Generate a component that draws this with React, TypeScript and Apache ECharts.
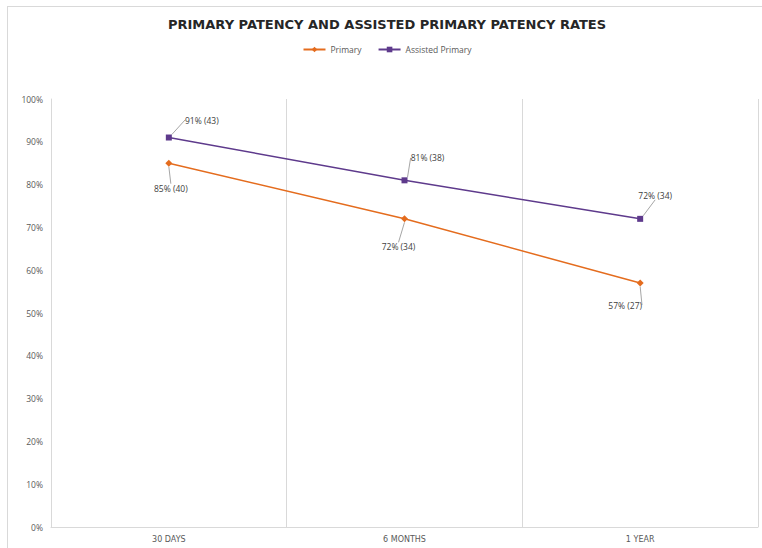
import React, { useEffect, useRef } from "react";
import * as echarts from "echarts";

const categories = ["30 DAYS", "6 MONTHS", "1 YEAR"];
const primaryPct = [85, 72, 57];
const primaryN = [40, 34, 27];
const assistedPct = [91, 81, 72];
const assistedN = [43, 38, 34];
const yTicks = { min: 0, max: 100, interval: 10 };

const primaryOffsets = [
  [2, 12],
  [-6, 15],
  [-15, 9],
];
const assistedOffsets = [
  [33, -5],
  [23, -10],
  [15, -11],
];

export default function App() {
  const ref = useRef<HTMLDivElement>(null);
  useEffect(() => {
    if (!ref.current) return;
    const chart = echarts.init(ref.current, null, { renderer: "svg" });
    const labelFont = "'Open Sans', 'Noto Sans', sans-serif";
    chart.setOption({
      animation: false,
      backgroundColor: "#ffffff",
      title: {
        text: "PRIMARY PATENCY AND ASSISTED PRIMARY PATENCY RATES",
        left: "center",
        top: 6,
        textStyle: {
          fontFamily: "'DejaVu Sans', sans-serif",
          fontWeight: "bold",
          fontSize: 13,
          color: "#262626",
        },
      },
      legend: {
        top: 33,
        left: "center",
        itemWidth: 22,
        itemHeight: 7,
        itemGap: 16,
        textStyle: { fontSize: 8.5, color: "#595959", fontFamily: labelFont },
        data: ["Primary", "Assisted Primary"],
      },
      grid: { left: 43, right: 8, top: 92, bottom: 23 },
      xAxis: {
        type: "category",
        data: categories,
        boundaryGap: true,
        axisLine: { show: true, lineStyle: { color: "#d9d9d9", width: 1 } },
        axisTick: { show: false },
        splitLine: { show: true, lineStyle: { color: "#d9d9d9", width: 1 } },
        axisLabel: {
          fontSize: 8,
          color: "#595959",
          fontFamily: "'DejaVu Sans', sans-serif",
          margin: 8,
        },
      },
      yAxis: {
        type: "value",
        min: yTicks.min,
        max: yTicks.max,
        interval: yTicks.interval,
        axisLine: { show: true, lineStyle: { color: "#d9d9d9", width: 1 } },
        axisTick: { show: false },
        splitLine: { show: false },
        axisLabel: {
          formatter: "{value}%",
          fontSize: 8.5,
          color: "#595959",
          fontFamily: labelFont,
          margin: 8,
        },
      },
      series: [
        {
          name: "Primary",
          type: "line",
          data: primaryPct,
          symbol: "diamond",
          symbolSize: 7,
          color: "#e46c1e",
          lineStyle: { width: 1.5, color: "#e46c1e" },
          itemStyle: { color: "#e46c1e" },
          label: {
            show: true,
            position: "bottom",
            distance: 5,
            fontSize: 8.5,
            color: "#404040",
            fontFamily: labelFont,
            formatter: (p: any) => `${primaryPct[p.dataIndex]}% (${primaryN[p.dataIndex]})`,
          },
          labelLine: { show: true, lineStyle: { color: "#a6a6a6", width: 1 } },
          labelLayout: (p: any) => ({
            dx: primaryOffsets[p.dataIndex][0],
            dy: primaryOffsets[p.dataIndex][1],
          }),
        },
        {
          name: "Assisted Primary",
          type: "line",
          data: assistedPct,
          symbol: "rect",
          symbolSize: 6,
          color: "#5e3a8c",
          lineStyle: { width: 1.5, color: "#5e3a8c" },
          itemStyle: { color: "#5e3a8c" },
          label: {
            show: true,
            position: "top",
            distance: 5,
            fontSize: 8.5,
            color: "#404040",
            fontFamily: labelFont,
            formatter: (p: any) => `${assistedPct[p.dataIndex]}% (${assistedN[p.dataIndex]})`,
          },
          labelLine: { show: true, lineStyle: { color: "#a6a6a6", width: 1 } },
          labelLayout: (p: any) => ({
            dx: assistedOffsets[p.dataIndex][0],
            dy: assistedOffsets[p.dataIndex][1],
          }),
        },
      ],
    });
    return () => chart.dispose();
  }, []);
  return (
    <div
      style={{
        position: "absolute",
        left: 7,
        top: 6,
        width: 760,
        height: 545,
        border: "1px solid #d9d9d9",
        boxSizing: "border-box",
        background: "#fff",
      }}
    >
      <div ref={ref} style={{ width: "100%", height: "100%" }} />
    </div>
  );
}
